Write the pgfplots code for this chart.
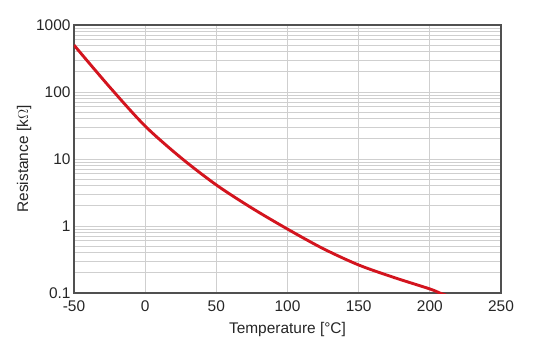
\documentclass[border=0pt]{standalone}
\usepackage{fontspec}
\setmainfont{Liberation Sans}
\usepackage{pgfplots}
\pgfplotsset{compat=1.18}
\definecolor{curvered}{HTML}{D3141E}
\definecolor{gridgrey}{HTML}{CFCFCF}
\definecolor{framegrey}{HTML}{505050}
\begin{document}
\begin{tikzpicture}
\begin{axis}[
  scale only axis,
  width=427bp, height=268bp,
  ymode=log, log basis y=10,
  xmin=-50, xmax=250, ymin=0.1, ymax=1000,
  xtick={-50,0,50,100,150,200,250},
  ytick={0.1,1,10,100,1000},
  yticklabels={0.1,1,10,100,1000},
  minor ytick={0.2,0.3,0.4,0.5,0.6,0.7,0.8,0.9,2,3,4,5,6,7,8,9,20,30,40,50,60,70,80,90,200,300,400,500,600,700,800,900},
  xmajorgrids, ymajorgrids, yminorgrids,
  major grid style={gridgrey, line width=0.8pt},
  minor grid style={gridgrey, line width=0.8pt},
  major tick length=0pt, minor tick length=0pt,
  axis line style={framegrey, line width=1.3pt},
  /pgf/number format/assume math mode=true,
  ticklabel style={font=\fontsize{15.5}{18}\selectfont, text=black!85},
  label style={font=\fontsize{15.5}{18}\selectfont, text=black!85},
  xticklabel style={yshift=-4bp},
  xlabel={Temperature [°C]},
  ylabel={Resistance [k$\Omega$]},
  xlabel style={yshift=-4bp},
  ylabel style={yshift=-2bp},
  clip=true,
]
\addplot[curvered, line width=2.9pt, smooth] coordinates {
  (-50,501) (-25,119) (0,31) (25,10.5) (50,4.1) (75,1.85) (100,0.9)
  (125,0.46) (150,0.262) (175,0.17) (200,0.115) (207,0.1) (212,0.092)
};
\end{axis}
\path (0,0) ++(-74bp,-67bp) rectangle ++(543bp,360bp);
\end{tikzpicture}
\end{document}
